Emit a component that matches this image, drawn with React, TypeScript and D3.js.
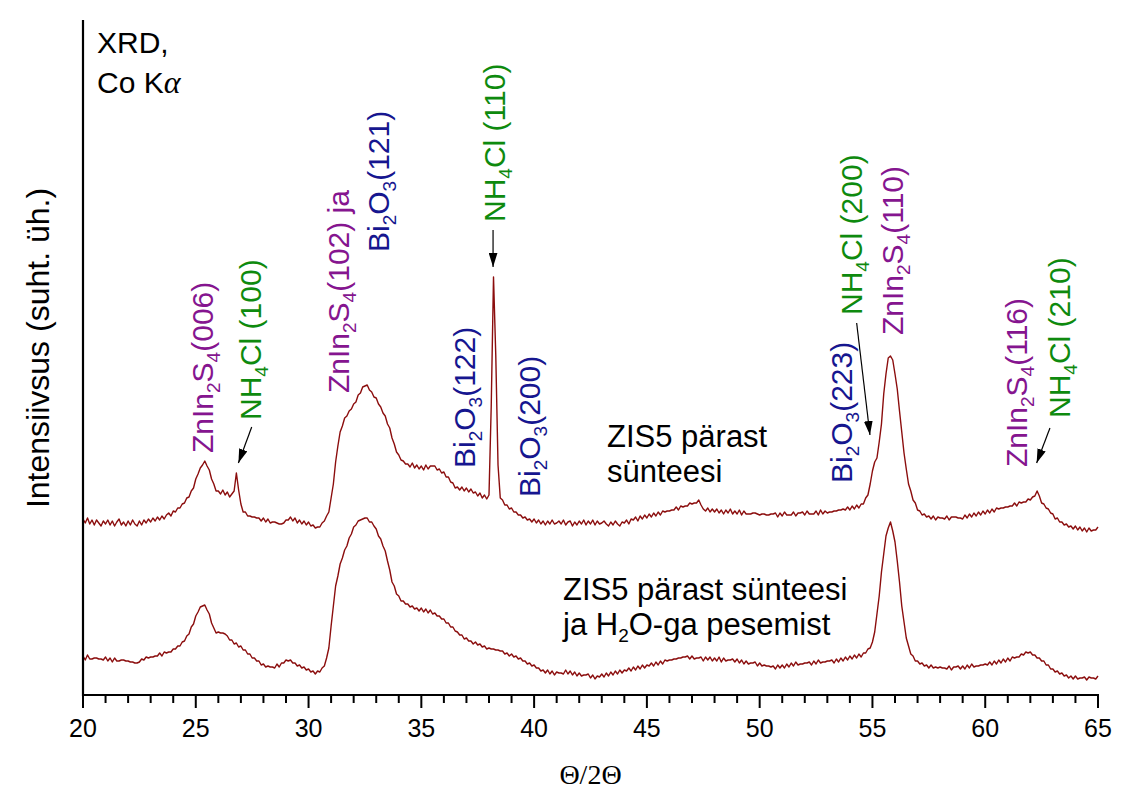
import React from 'react';
import * as d3 from 'd3';

// 2θ sampling of the scans (degrees)
const thetaStart = 20;
const thetaStep = 0.1;
const majorTicks = [20, 25, 30, 35, 40, 45, 50, 55, 60, 65];

// Upper scan: "ZIS5 pärast sünteesi" (arbitrary units, stacked)
const upperSeries = [
  176,172,177,171,175,170,175,172,169,174,
  171,175,170,174,169,173,176,170,173,169,
  174,170,175,171,169,174,170,175,172,176,
  173,177,174,178,175,179,176,180,182,179,
  184,183,187,187,191,192,197,198,204,207,
  216,221,227,230,234,229,225,216,211,204,
  204,201,205,200,203,198,201,204,222,205,
  191,183,183,179,179,178,178,177,177,174,
  177,173,176,172,173,173,172,171,171,172,
  175,175,178,174,177,172,175,171,174,170,
  173,169,170,167,168,168,172,174,179,183,
  197,211,233,249,263,269,277,279,284,286,
  291,293,300,302,308,309,310,305,303,298,
  297,291,288,282,279,271,267,257,251,243,
  240,235,234,231,231,228,232,227,230,226,
  229,225,230,226,229,229,229,225,226,222,
  223,218,218,213,212,207,208,205,208,204,
  207,203,206,202,203,199,202,197,200,196,
  200,290,418,340,230,197,195,190,190,186,
  187,183,183,180,180,177,178,175,176,173,
  176,172,175,171,174,170,174,171,175,171,
  172,174,171,175,170,173,174,169,173,170,
  174,171,175,170,174,171,175,170,174,171,
  172,174,171,169,173,170,174,171,169,173,
  172,175,171,176,175,178,174,179,176,180,
  177,181,178,182,179,183,180,184,183,184,
  184,185,185,188,185,189,188,189,189,192,
  191,192,192,195,190,186,184,187,183,186,
  183,186,182,185,181,185,182,186,181,184,
  181,185,180,184,181,181,181,182,182,181,
  180,181,181,180,180,181,181,182,178,182,
  179,183,180,180,180,183,179,182,182,183,
  180,184,181,181,181,184,180,185,181,184,
  182,183,183,184,184,185,185,186,185,188,
  185,189,186,190,187,191,191,197,200,211,
  224,233,237,253,271,301,321,337,339,335,
  321,306,284,263,242,226,211,204,195,192,
  185,184,180,181,178,179,176,179,175,178,
  177,177,176,179,175,178,178,178,177,177,
  176,180,177,181,178,182,179,183,180,184,
  181,185,182,186,183,187,186,187,187,188,
  188,189,189,192,189,193,192,193,193,196,
  195,198,199,204,199,192,191,187,186,182,
  181,176,177,173,173,170,171,168,169,166,
  169,165,168,164,167,163,167,164,165,165,
  168,
];

// Lower scan: "ZIS5 pärast sünteesi ja H2O-ga pesemist"
const lowerSeries = [
  39,35,40,36,36,37,37,36,36,35,
  38,34,37,33,37,34,34,35,35,34,
  34,33,33,32,32,33,36,35,38,37,
  38,38,39,39,42,39,43,42,43,43,
  46,46,49,49,53,54,59,61,68,71,
  79,83,88,89,90,85,81,72,67,62,
  63,62,62,61,59,55,55,51,52,48,
  49,45,45,41,41,37,37,34,34,30,
  31,28,29,28,28,27,31,28,32,32,
  35,34,35,32,32,29,30,27,28,25,
  26,23,24,21,24,23,27,29,37,47,
  69,89,109,119,131,137,145,149,157,161,
  168,170,174,175,176,177,177,173,173,169,
  166,159,156,149,144,134,125,113,109,101,
  99,94,94,91,91,88,89,86,87,84,
  87,83,86,82,85,81,82,79,79,76,
  76,72,72,68,68,64,63,60,60,56,
  57,54,54,51,53,50,51,48,49,46,
  47,46,46,45,45,44,44,41,42,39,
  41,38,39,36,37,34,34,31,32,29,
  30,27,27,24,25,22,25,21,24,20,
  23,22,22,21,25,21,24,20,23,19,
  22,19,20,20,21,17,20,16,19,18,
  21,18,22,19,23,20,24,21,25,22,
  25,24,27,24,28,25,29,26,30,27,
  30,29,32,29,33,30,34,31,35,34,
  35,35,36,36,37,37,38,38,39,36,
  39,36,37,37,38,34,38,35,38,34,
  37,34,38,33,37,34,35,35,36,33,
  36,32,35,31,34,31,32,32,33,29,
  32,29,30,29,29,28,29,26,30,27,
  30,27,31,28,32,29,33,30,31,31,
  32,32,33,30,34,31,35,32,33,33,
  34,34,35,32,36,33,37,34,38,35,
  39,36,40,37,41,38,42,42,46,47,
  53,63,81,99,123,141,159,167,173,164,
  153,134,113,89,73,57,49,41,39,34,
  34,31,32,29,30,27,30,27,28,27,
  28,27,27,26,29,25,28,28,29,26,
  29,26,30,27,31,28,29,29,30,30,
  31,30,33,30,34,31,35,32,36,33,
  37,34,38,37,38,38,41,40,43,42,
  43,40,40,37,37,34,34,30,30,26,
  26,23,24,21,22,19,20,17,19,16,
  19,16,17,17,18,15,18,17,17,16,
  19,
];

const PURPLE = '#85158F';
const GREEN = '#0E8A0E';
const BLUE = '#16168F';
const TRACE = '#8B0D0D';

type Part = [string, boolean];
// peak labels: text parts, colour, anchor (2θ, intensity)
const peakLabels: { parts: Part[]; color: string; t: number; i: number }[] = [
  { parts: [['ZnIn', false], ['2', true], ['S', false], ['4', true], ['(006)', false]], color: PURPLE, t: 25.76, i: 242 },
  { parts: [['NH', false], ['4', true], ['Cl (100)', false]], color: GREEN, t: 27.89, i: 275 },
  { parts: [['ZnIn', false], ['2', true], ['S', false], ['4', true], ['(102) ja', false]], color: PURPLE, t: 31.79, i: 302 },
  { parts: [['Bi', false], ['2', true], ['O', false], ['3', true], ['(121)', false]], color: BLUE, t: 33.57, i: 443 },
  { parts: [['NH', false], ['4', true], ['Cl (110)', false]], color: GREEN, t: 38.71, i: 473 },
  { parts: [['Bi', false], ['2', true], ['O', false], ['3', true], ['(122)', false]], color: BLUE, t: 37.38, i: 227 },
  { parts: [['Bi', false], ['2', true], ['O', false], ['3', true], ['(200)', false]], color: BLUE, t: 40.26, i: 198 },
  { parts: [['Bi', false], ['2', true], ['O', false], ['3', true], ['(223)', false]], color: BLUE, t: 54.09, i: 212 },
  { parts: [['NH', false], ['4', true], ['Cl (200)', false]], color: GREEN, t: 54.54, i: 380 },
  { parts: [['ZnIn', false], ['2', true], ['S', false], ['4', true], ['(110)', false]], color: PURPLE, t: 56.35, i: 360 },
  { parts: [['ZnIn', false], ['2', true], ['S', false], ['4', true], ['(116)', false]], color: PURPLE, t: 61.85, i: 228 },
  { parts: [['NH', false], ['4', true], ['Cl (210)', false]], color: GREEN, t: 63.76, i: 277 },
];

// arrows: from (2θ, intensity) to (2θ, intensity)
const arrows = [
  { t1: 27.48, i1: 268, t2: 26.89, i2: 232 },
  { t1: 38.18, i1: 465, t2: 38.18, i2: 428 },
  { t1: 54.30, i1: 372, t2: 54.89, i2: 260 },
  { t1: 62.87, i1: 267, t2: 62.28, i2: 232 },
];

const SANS = '"Liberation Sans", Arial, Helvetica, sans-serif';
const SERIF = '"Liberation Serif", "Times New Roman", serif';

function Rich({ parts, size, sub, shift }: { parts: Part[]; size: number; sub: number; shift: number }) {
  let prev = false;
  return (
    <>
      {parts.map(([s, isSub], k) => {
        let dy = 0;
        if (isSub && !prev) dy = shift;
        if (!isSub && prev) dy = -shift;
        prev = isSub;
        return (
          <tspan key={k} fontSize={isSub ? sub : size} dy={dy}>
            {s}
          </tspan>
        );
      })}
    </>
  );
}

export default function App() {
  const W = 1135;
  const H = 795;
  const x = d3.scaleLinear().domain([20, 65]).range([83, 1098]);
  const y = d3.scaleLinear().domain([0, 675]).range([695, 20]);
  const line = d3
    .line<number>()
    .x((_, i) => x(thetaStart + i * thetaStep))
    .y((d) => y(d));

  const minorTicks = x.ticks(45).filter((v) => !majorTicks.includes(v));
  const axisY = y(0);

  return (
    <svg
      width={W}
      height={H}
      style={{ position: 'absolute', left: 0, top: 0, display: 'block', background: '#fff' }}
      fontFamily={SANS}
    >
      <defs>
        <marker id="ah2" viewBox="0 0 16 10" refX="16" refY="5" markerWidth="14" markerHeight="9" markerUnits="userSpaceOnUse" orient="auto">
          <path d="M0,0 L16,5 L0,10 z" fill="#000" />
        </marker>
      </defs>

      {/* traces */}
      <path d={line(upperSeries) || ''} fill="none" stroke={TRACE} strokeWidth={1.4} strokeLinejoin="round" />
      <path d={line(lowerSeries) || ''} fill="none" stroke={TRACE} strokeWidth={1.4} strokeLinejoin="round" />

      {/* axes */}
      <line x1={x(20)} x2={x(20)} y1={y(675)} y2={axisY + 1} stroke="#000" strokeWidth={2.2} />
      <line x1={x(20) - 1} x2={x(65) + 1} y1={axisY} y2={axisY} stroke="#000" strokeWidth={2.2} />
      {majorTicks.map((v) => (
        <g key={'M' + v}>
          <line x1={x(v)} x2={x(v)} y1={axisY} y2={axisY + 13} stroke="#000" strokeWidth={2} />
          <text x={x(v)} y={axisY + 42} textAnchor="middle" fontSize={25} fill="#000">
            {v}
          </text>
        </g>
      ))}
      {minorTicks.map((v) => (
        <line key={'m' + v} x1={x(v)} x2={x(v)} y1={axisY} y2={axisY + 8} stroke="#000" strokeWidth={2} />
      ))}

      {/* axis titles */}
      <text x={(x(20) + x(65)) / 2} y={784} textAnchor="middle" fontFamily={SERIF} fontSize={28} fill="#000">
        Θ/2Θ
      </text>
      <text transform={`translate(49,348) rotate(-90)`} textAnchor="middle" fontSize={32} fill="#000">
        Intensiivsus (suht. üh.)
      </text>

      {/* corner note */}
      <text x={97} y={53} fontSize={30} fill="#000">XRD,</text>
      <text x={97} y={93} fontSize={30} fill="#000">
        Co K<tspan fontFamily={SERIF} fontStyle="italic" fontSize={32}>α</tspan>
      </text>

      {/* sample labels */}
      <text x={607} y={447} fontSize={31} fill="#000">ZIS5 pärast</text>
      <text x={607} y={482} fontSize={31} fill="#000">sünteesi</text>
      <text x={563} y={600} fontSize={31} fill="#000">ZIS5 pärast sünteesi</text>
      <text x={563} y={635} fontSize={31} fill="#000">
        <Rich parts={[['ja H', false], ['2', true], ['O-ga pesemist', false]]} size={31} sub={19} shift={7} />
      </text>

      {/* peak labels */}
      {peakLabels.map((a, k) => (
        <text key={k} transform={`translate(${x(a.t)},${y(a.i)}) rotate(-90)`} fill={a.color} fontSize={30}>
          <Rich parts={a.parts} size={30} sub={19} shift={7} />
        </text>
      ))}

      {/* arrows */}
      {arrows.map((a, k) => (
        <line
          key={k}
          x1={x(a.t1)}
          y1={y(a.i1)}
          x2={x(a.t2)}
          y2={y(a.i2)}
          stroke="#000"
          strokeWidth={1.2}
          markerEnd="url(#ah2)"
        />
      ))}
    </svg>
  );
}
